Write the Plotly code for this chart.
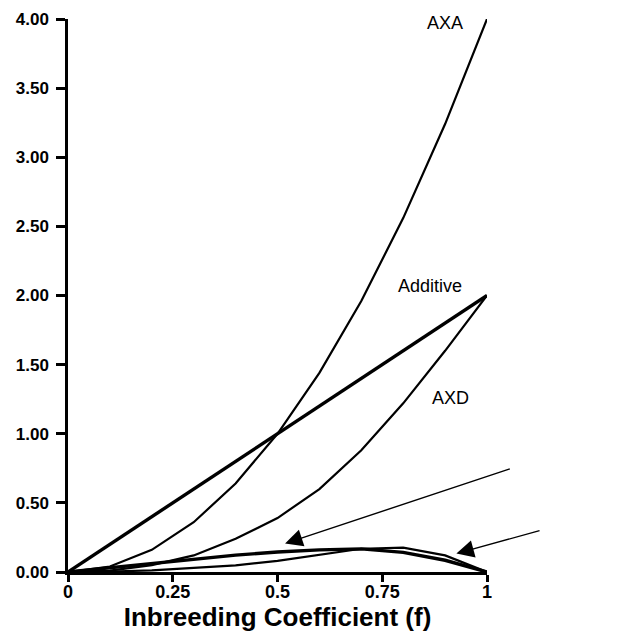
import plotly.graph_objects as go

f_vals = [0, 0.1, 0.2, 0.3, 0.4, 0.5, 0.6, 0.7, 0.8, 0.9, 1.0]
additive = [0, 0.2, 0.4, 0.6, 0.8, 1.0, 1.2, 1.4, 1.6, 1.8, 2.0]
axa = [0, 0.04, 0.16, 0.36, 0.64, 1.0, 1.44, 1.96, 2.56, 3.24, 4.0]
axd = [0, 0.01, 0.05, 0.12, 0.24, 0.39, 0.6, 0.88, 1.22, 1.6, 2.0]
dominance = [0, 0.03, 0.062, 0.092, 0.122, 0.145, 0.16, 0.167, 0.142, 0.085, 0]
dxd = [0, 0.003, 0.012, 0.028, 0.048, 0.08, 0.125, 0.168, 0.176, 0.12, 0]

x_ticks = [0, 0.25, 0.5, 0.75, 1]
x_ticktext = ["0", "0.25", "0.5", "0.75", "1"]
y_ticks = [0, 0.5, 1.0, 1.5, 2.0, 2.5, 3.0, 3.5, 4.0]

FONT = "Liberation Sans, Arial, Helvetica, sans-serif"

fig = go.Figure()
series = [
    ("Additive", additive, 3.4),
    ("AXA", axa, 2.2),
    ("AXD", axd, 2.2),
    ("Dominance", dominance, 3.4),
    ("DXD", dxd, 2.2),
]
for name, vals, w in series:
    fig.add_trace(go.Scatter(x=f_vals, y=vals, mode="lines", name=name,
                             line=dict(color="black", width=w),
                             cliponaxis=False, showlegend=False))

lab_font = dict(family=FONT, size=18, color="black")
fig.add_annotation(x=0.9, y=3.97, text="AXA", showarrow=False, font=lab_font)
fig.add_annotation(x=0.863, y=2.07, text="Additive", showarrow=False, font=lab_font)
fig.add_annotation(x=0.913, y=1.26, text="AXD", showarrow=False, font=lab_font)
fig.add_annotation(x=1.2, y=0.79, text="Dominance", showarrow=False, font=lab_font)
fig.add_annotation(x=1.213, y=0.325, text="DXD", showarrow=False, font=lab_font)

# arrows
fig.add_annotation(x=0.518, y=0.206, ax=1.058, ay=0.749, axref="x", ayref="y",
                   xref="x", yref="y", text="", showarrow=True,
                   arrowhead=2, arrowsize=2.5, arrowwidth=1.4, arrowcolor="black")
fig.add_annotation(x=0.927, y=0.133, ax=1.129, ay=0.302, axref="x", ayref="y",
                   xref="x", yref="y", text="", showarrow=True,
                   arrowhead=2, arrowsize=2.5, arrowwidth=1.4, arrowcolor="black")

# page body has an 8px margin, so the figure is sized and offset to fit the window
fig.update_layout(
    width=626, height=632,
    margin=dict(l=59.5, r=146.5, t=11.3, b=68.3, pad=0, autoexpand=False),
    plot_bgcolor="white", paper_bgcolor="white",
    font=dict(family=FONT, color="black"),
)
fig.update_xaxes(range=[0, 1], tickvals=x_ticks, ticktext=x_ticktext,
                 automargin=False,
                 showgrid=False, zeroline=False, showline=True, linecolor="black",
                 linewidth=2.5, ticks="outside", ticklen=7, tickwidth=2.5,
                 tickcolor="black", ticklabelstandoff=-5,
                 tickfont=dict(family=FONT, size=18, color="black", weight="bold"),
                 title=dict(text="Inbreeding Coefficient (f)", standoff=7,
                            font=dict(family=FONT, size=26, color="black", weight="bold")))
fig.update_yaxes(range=[0, 4], tickvals=y_ticks, tickformat=".2f",
                 automargin=False,
                 showgrid=False, zeroline=False, showline=True, linecolor="black",
                 linewidth=2.5, ticks="outside", ticklen=9, tickwidth=2.5,
                 tickcolor="black", ticklabelstandoff=4,
                 tickfont=dict(family=FONT, size=17, color="black", weight="bold"))

fig.write_html("out.html")
